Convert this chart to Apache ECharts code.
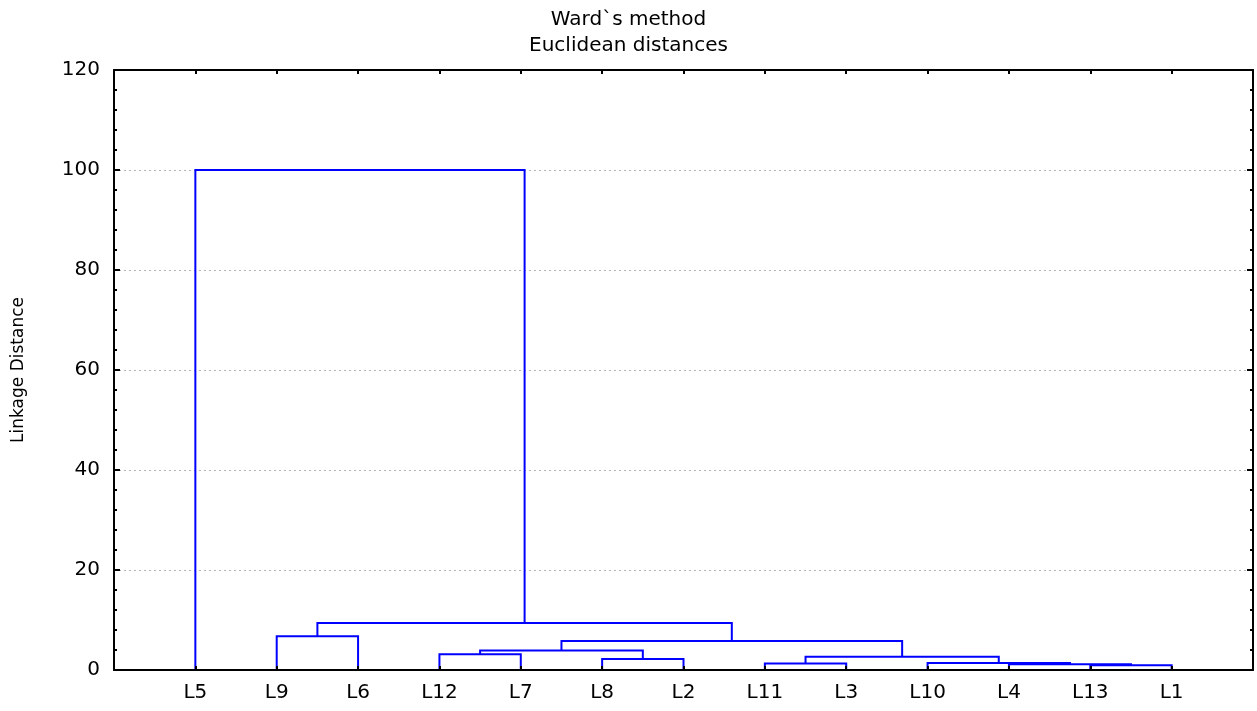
<!DOCTYPE html>
<html>
<head>
<meta charset="utf-8">
<title>Ward's method dendrogram</title>
<script src="https://cdn.jsdelivr.net/npm/echarts@6/dist/echarts.min.js"></script>
<style>
  html, body { margin: 0; padding: 0; background: #ffffff; }
  #chart { width: 1257px; height: 711px; }
</style>
</head>
<body>
<div id="chart"></div>
<script>
// Leaves in the order they appear along the bottom axis
const leafLabels = ['L5', 'L9', 'L6', 'L12', 'L7', 'L8', 'L2', 'L11', 'L3', 'L10', 'L4', 'L13', 'L1'];

// Linkage steps: ids 0..12 are leaves (index in leafLabels),
// step k creates cluster id 13 + k from mergeLeft[k] and mergeRight[k]
const mergeLeft   = [11, 10, 7, 9, 5, 15, 3, 19, 20, 1, 22, 0];
const mergeRight  = [12, 13, 8, 14, 6, 16, 4, 17, 18, 2, 21, 23];
const mergeHeight = [0.95, 1.15, 1.28, 1.42, 2.2, 2.65, 3.15, 3.9, 5.8, 6.75, 9.4, 100];

// Axis ticks
const yTicks = [0, 20, 40, 60, 80, 100, 120];

// Work out the x position (mean of children) and height of every node
const nodeX = leafLabels.map((_, i) => i + 1);
const nodeH = leafLabels.map(() => 0);
const links = [];
mergeHeight.forEach((h, k) => {
  const a = mergeLeft[k], b = mergeRight[k];
  links.push({
    coords: [[nodeX[a], nodeH[a]], [nodeX[a], h], [nodeX[b], h], [nodeX[b], nodeH[b]]]
  });
  nodeX.push((nodeX[a] + nodeX[b]) / 2);
  nodeH.push(h);
});

const FONT = 'DejaVu Sans';
const chart = echarts.init(document.getElementById('chart'), null, { renderer: 'canvas' });

chart.setOption({
  backgroundColor: '#ffffff',
  animation: false,
  title: {
    text: 'Ward`s method\nEuclidean distances',
    left: 'center',
    top: 7,
    padding: 0,
    textStyle: { fontFamily: FONT, fontSize: 20, fontWeight: 'normal', color: '#000', lineHeight: 26 }
  },
  grid: { left: 114, right: 4, top: 70, bottom: 41, containLabel: false },
  xAxis: [
    {
      type: 'value', position: 'bottom', min: 0, max: leafLabels.length + 1, interval: 1, z: 5,
      axisLine: { show: true, onZero: false, lineStyle: { color: '#000', width: 2 } },
      axisTick: { show: true, inside: true, length: 4, lineStyle: { color: '#000', width: 2 } },
      splitLine: { show: false },
      axisLabel: {
        margin: 13, color: '#000', fontFamily: FONT, fontSize: 20,
        formatter: v => leafLabels[v - 1] || ''
      }
    },
    {
      type: 'value', position: 'top', min: 0, max: leafLabels.length + 1, interval: 1, z: 5,
      axisLine: { show: true, onZero: false, lineStyle: { color: '#000', width: 2 } },
      axisTick: { show: true, inside: true, length: 4, lineStyle: { color: '#000', width: 2 } },
      splitLine: { show: false },
      axisLabel: { show: false }
    }
  ],
  yAxis: [
    {
      type: 'value', position: 'left', min: yTicks[0], max: yTicks[yTicks.length - 1], interval: 20,
      name: 'Linkage Distance', nameLocation: 'middle', nameRotate: 90, nameGap: 87,
      nameTextStyle: { fontFamily: FONT, fontSize: 17, color: '#000' },
      axisLine: { show: true, onZero: false, lineStyle: { color: '#000', width: 2 } },
      axisTick: { show: true, inside: true, length: 6, lineStyle: { color: '#000', width: 2 } },
      minorTick: { show: true, splitNumber: 5, length: 3, lineStyle: { color: '#000', width: 2 } },
      splitLine: { show: true, lineStyle: { color: '#b4b4b4', type: [2, 3], width: 1 } },
      axisLabel: { margin: 14, color: '#000', fontFamily: FONT, fontSize: 20 }
    },
    {
      type: 'value', position: 'right', min: yTicks[0], max: yTicks[yTicks.length - 1], interval: 20,
      axisLine: { show: true, onZero: false, lineStyle: { color: '#000', width: 2 } },
      axisTick: { show: true, inside: true, length: 6, lineStyle: { color: '#000', width: 2 } },
      minorTick: { show: true, splitNumber: 5, length: 3, lineStyle: { color: '#000', width: 2 } },
      splitLine: { show: false },
      axisLabel: { show: false }
    }
  ],
  series: [
    {
      type: 'lines',
      coordinateSystem: 'cartesian2d',
      xAxisIndex: 0,
      yAxisIndex: 0,
      polyline: true,
      silent: true,
      z: 2,
      lineStyle: { color: '#0000ff', width: 2, opacity: 1 },
      data: links
    }
  ]
});
</script>
</body>
</html>
